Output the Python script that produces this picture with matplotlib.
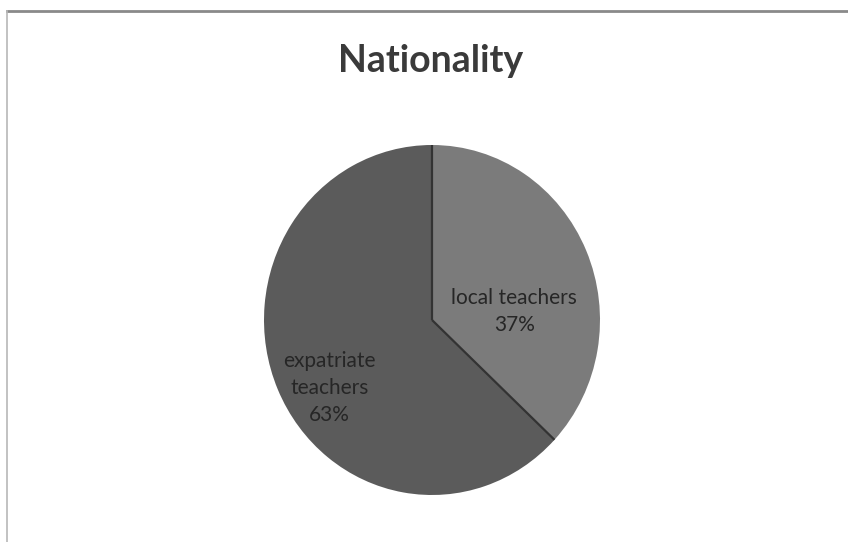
import numpy as np
import matplotlib.pyplot as plt
from matplotlib.lines import Line2D

labels = ["local teachers", "expatriate\nteachers"]
shares = [37, 63]
colors = ["#7b7b7b", "#5b5b5b"]

plt.rcParams['font.family'] = ['Lato', 'DejaVu Sans']

fig = plt.figure(figsize=(8.48, 5.42), dpi=100)
fig.patch.set_facecolor('white')

# chart frame (only top and left edges are visible)
fig.add_artist(Line2D([7 / 848, 1], [1 - 11 / 542, 1 - 11 / 542], color='#8a8a8a', lw=2))
fig.add_artist(Line2D([7 / 848, 7 / 848], [0, 1 - 11 / 542], color='#b8b8b8', lw=1.2))

fig.text(431 / 848, 1 - 72 / 542, "Nationality", ha='center', va='baseline',
         fontsize=27, fontweight='bold', color='#3a3a3a')

# pie is drawn slightly taller than wide
cx, cy, rx, ry = 432, 320, 168, 175
ax = fig.add_axes([(cx - rx) / 848, 1 - (cy + ry) / 542, 2 * rx / 848, 2 * ry / 542])
wedges, _ = ax.pie(shares, colors=colors, startangle=90, counterclock=False,
                   radius=1.0, wedgeprops=dict(linewidth=0))
ax.set_xlim(-1, 1)
ax.set_ylim(-1, 1)
ax.set_aspect('auto')
ax.axis('off')

# dark dividers between slices
for w in wedges:
    t = np.deg2rad(w.theta1)
    ax.plot([0, np.cos(t)], [0, np.sin(t)], color='#333333', lw=1.6,
            solid_capstyle='butt')

# data labels inside the slices
pos = [(0.49, 0.05), (-0.61, -0.39)]
for (x, y), lab, val in zip(pos, labels, shares):
    ax.text(x, y, f"{lab}\n{val}%", ha='center', va='center', fontsize=15,
            color='#262626', linespacing=1.45)

fig.savefig("out.png", dpi=100)
